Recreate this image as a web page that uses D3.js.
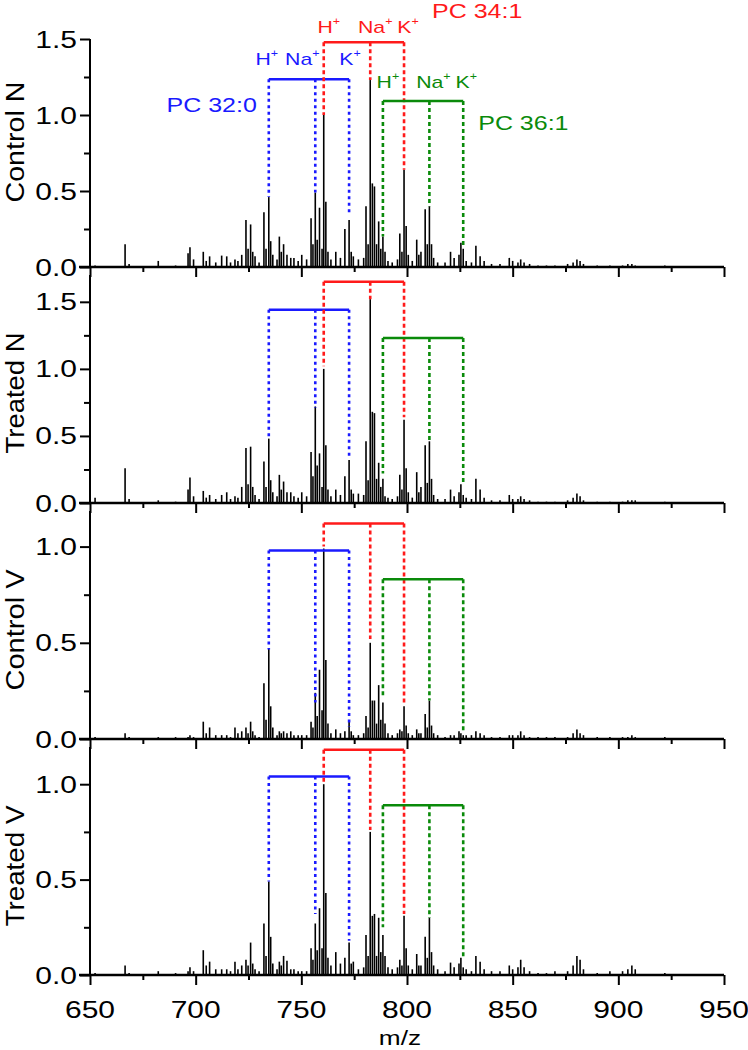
<!DOCTYPE html>
<html><head><meta charset="utf-8">
<script src="https://cdn.jsdelivr.net/npm/d3@7"></script>
<style>html,body{margin:0;padding:0;background:#fff;}svg{display:block;font-family:"Liberation Sans",Arial,sans-serif;}</style>
</head><body>
<svg id="chart" width="748" height="1050"></svg>
<script>
// ---------------- data ----------------
const panelNames = ["Control N", "Treated N", "Control V", "Treated V"];
const xDomain = [650, 950];
const xTickLabels = [650, 700, 750, 800, 850, 900, 950];
const yMaxes = [1.5, 1.7, 1.185, 1.195];
const yTickLabels = [[0, 0.5, 1.0, 1.5], [0, 0.5, 1.0, 1.5], [0, 0.5, 1.0], [0, 0.5, 1.0]];

const peakMz = [652.4,666.6,668.5,682.3,690.5,696.4,697.3,699.0,703.6,705.0,706.6,709.5,712.3,714.7,716.5,718.6,720.0,721.8,723.8,724.8,726.0,727.0,728.1,730.0,732.3,733.3,734.6,735.5,736.5,738.5,739.6,740.5,741.6,743.2,745.0,746.5,748.5,750.2,752.5,754.6,755.5,756.6,757.5,758.6,759.8,760.6,761.6,762.6,764.0,766.3,768.5,770.6,772.6,773.6,774.6,777.0,779.5,780.6,781.6,782.6,783.6,784.6,785.6,786.6,787.6,788.6,789.6,791.0,793.0,795.5,796.6,797.6,798.6,799.6,800.6,802.5,804.6,805.6,806.6,808.6,809.6,810.6,811.6,812.6,814.5,818.0,820.6,822.3,824.6,825.5,826.6,828.0,830.5,832.6,834.6,836.5,840.0,844.0,848.4,850.0,852.5,853.8,855.4,858.0,862.0,866.0,870.0,876.0,878.6,880.4,881.9,883.5,890.0,896.0,902.0,904.5,906.4,908.0,915.0,922.0,935.0];
const controlN = [0.01,0.15,0.02,0.04,0.01,0.09,0.13,0.05,0.10,0.04,0.07,0.03,0.075,0.07,0.03,0.05,0.04,0.08,0.31,0.12,0.28,0.10,0.07,0.03,0.36,0.12,0.46,0.17,0.08,0.05,0.20,0.10,0.15,0.08,0.06,0.06,0.04,0.08,0.05,0.32,0.15,0.49,0.18,0.39,0.12,1.00,0.43,0.10,0.05,0.10,0.06,0.25,0.31,0.10,0.07,0.05,0.06,0.40,0.15,1.23,0.55,0.53,0.15,0.30,0.12,0.20,0.10,0.04,0.03,0.05,0.22,0.10,0.64,0.27,0.08,0.04,0.18,0.08,0.10,0.38,0.15,0.40,0.15,0.06,0.03,0.03,0.10,0.06,0.08,0.16,0.12,0.04,0.03,0.14,0.07,0.04,0.02,0.02,0.06,0.04,0.03,0.05,0.03,0.02,0.01,0.01,0.01,0.02,0.03,0.05,0.04,0.02,0.01,0.01,0.01,0.02,0.02,0.01,0.005,0.01,0.005];
const treatedN = [0.04,0.26,0.03,0.02,0.01,0.10,0.19,0.05,0.09,0.04,0.06,0.03,0.06,0.08,0.03,0.05,0.04,0.12,0.41,0.14,0.42,0.12,0.06,0.03,0.31,0.12,0.48,0.17,0.08,0.05,0.21,0.10,0.16,0.08,0.08,0.05,0.04,0.08,0.05,0.38,0.20,0.72,0.28,0.37,0.12,1.00,0.43,0.10,0.05,0.10,0.06,0.20,0.32,0.10,0.07,0.07,0.06,0.46,0.17,1.52,0.68,0.67,0.18,0.30,0.12,0.18,0.05,0.04,0.03,0.05,0.21,0.10,0.62,0.26,0.08,0.04,0.23,0.08,0.12,0.43,0.15,0.46,0.18,0.06,0.03,0.03,0.10,0.05,0.08,0.14,0.06,0.04,0.03,0.18,0.10,0.04,0.02,0.02,0.06,0.03,0.03,0.05,0.03,0.02,0.01,0.01,0.01,0.02,0.04,0.07,0.05,0.02,0.01,0.01,0.01,0.02,0.02,0.02,0.005,0.01,0.005];
const controlV = [0.01,0.03,0.01,0.01,0.01,0.01,0.02,0.01,0.09,0.03,0.06,0.02,0.02,0.02,0.01,0.06,0.03,0.04,0.06,0.03,0.09,0.04,0.02,0.01,0.29,0.10,0.47,0.17,0.06,0.02,0.04,0.03,0.04,0.03,0.04,0.02,0.02,0.02,0.02,0.09,0.06,0.24,0.12,0.36,0.15,0.99,0.41,0.08,0.03,0.05,0.03,0.04,0.09,0.04,0.02,0.02,0.03,0.12,0.06,0.50,0.20,0.20,0.08,0.28,0.10,0.19,0.08,0.03,0.02,0.03,0.05,0.04,0.17,0.07,0.03,0.02,0.05,0.03,0.03,0.13,0.06,0.20,0.07,0.03,0.02,0.01,0.02,0.02,0.04,0.03,0.02,0.02,0.02,0.04,0.03,0.02,0.01,0.01,0.02,0.02,0.02,0.04,0.02,0.01,0.01,0.01,0.01,0.01,0.03,0.05,0.03,0.02,0.01,0.01,0.01,0.01,0.02,0.01,0.005,0.01,0.005];
const treatedV = [0.01,0.05,0.01,0.02,0.01,0.02,0.04,0.02,0.13,0.05,0.07,0.03,0.03,0.03,0.02,0.07,0.03,0.05,0.08,0.05,0.17,0.06,0.03,0.02,0.27,0.10,0.49,0.20,0.06,0.03,0.07,0.05,0.10,0.075,0.03,0.03,0.02,0.02,0.02,0.14,0.08,0.27,0.13,0.35,0.14,1.00,0.43,0.09,0.05,0.12,0.06,0.09,0.17,0.06,0.07,0.03,0.04,0.21,0.10,0.75,0.31,0.32,0.10,0.30,0.12,0.21,0.10,0.04,0.03,0.04,0.08,0.05,0.31,0.14,0.05,0.03,0.11,0.05,0.05,0.20,0.09,0.30,0.12,0.05,0.03,0.02,0.065,0.04,0.06,0.09,0.04,0.03,0.02,0.10,0.07,0.03,0.02,0.02,0.05,0.03,0.04,0.08,0.04,0.02,0.01,0.01,0.02,0.02,0.05,0.10,0.08,0.03,0.01,0.02,0.02,0.03,0.05,0.03,0.005,0.01,0.005];
const spectra = [controlN, treatedN, controlV, treatedV];

// annotation: lipid species, their ion m/z (H+, Na+, K+)
const ionNames = ["H", "Na", "K"];
const lipidNames = ["PC 32:0", "PC 34:1", "PC 36:1"];
const pc320Mz = [734.6, 756.6, 772.6];
const pc341Mz = [760.6, 782.6, 798.6];
const pc361Mz = [788.6, 810.6, 826.6];
// bracket heights per panel (intensity units)
const pc320Level = [1.235, 1.44, 0.98, 1.04];
const pc341Level = [1.478, 1.65, 1.12, 1.18];
const pc361Level = [1.092, 1.23, 0.83, 0.89];
// lower end of each dashed drop line per panel
const pc320Ends = [[0.46, 0.49, 0.36], [0.49, 0.71, 0.34], [0.465, 0.19, 0.065], [0.49, 0.32, 0.18]];
const pc341Ends = [[1.0, 1.23, 0.64], [1.02, 1.52, 0.64], [1.0, 0.52, 0.19], [1.0, 0.76, 0.32]];
const pc361Ends = [[0.2, 0.4, 0.145], [0.22, 0.46, 0.145], [0.22, 0.2, 0.03], [0.25, 0.3, 0.09]];

// ---------------- layout ----------------
const svg = d3.select("#chart");
const left = 90, right = 724;
const panelTop0 = 39, panelH = 228, panelStep = 236;
const x = d3.scaleLinear().domain(xDomain).range([left, right]);
const SX = 1.25; // horizontal stretch of text seen in the reference
const blue = "#1a1aff", red = "#ff1a1a", green = "#0a8a0a";
const lipids = [
  {name: lipidNames[0], mz: pc320Mz, level: pc320Level, ends: pc320Ends, color: blue, dash: "3,3.5"},
  {name: lipidNames[1], mz: pc341Mz, level: pc341Level, ends: pc341Ends, color: red, dash: "4,3"},
  {name: lipidNames[2], mz: pc361Mz, level: pc361Level, ends: pc361Ends, color: green, dash: "4,3"}
];

function stretchedText(g, tx, ty, str, size, anchor, color) {
  return g.append("text")
    .attr("transform", `translate(${tx},${ty}) scale(${SX},1)`)
    .attr("text-anchor", anchor)
    .attr("font-size", size)
    .attr("fill", color || "#000")
    .text(str);
}

spectra.forEach((vals, i) => {
  const top = panelTop0 + i * panelStep;
  const base = top + panelH;
  const y = d3.scaleLinear().domain([0, yMaxes[i]]).range([base, top]);
  const g = svg.append("g");

  // peaks (stick spectrum)
  g.append("g").selectAll("line").data(peakMz.map((m, k) => [m, vals[k]])).join("line")
    .attr("x1", d => x(d[0])).attr("x2", d => x(d[0]))
    .attr("y1", y(0)).attr("y2", d => y(d[1]))
    .attr("stroke", "#000").attr("stroke-width", 1.6);

  // annotations
  lipids.forEach(L => {
    const lv = y(L.level[i]);
    g.append("line")
      .attr("x1", x(L.mz[0])).attr("x2", x(L.mz[2]))
      .attr("y1", lv).attr("y2", lv)
      .attr("stroke", L.color).attr("stroke-width", 2.5);
    L.mz.forEach((m, k) => {
      g.append("line")
        .attr("x1", x(m)).attr("x2", x(m))
        .attr("y1", lv).attr("y2", y(L.ends[i][k]))
        .attr("stroke", L.color).attr("stroke-width", 2.6)
        .attr("stroke-dasharray", L.dash);
    });
  });

  // y axis
  const yMinor = d3.range(0, yMaxes[i] + 1e-9, 0.25);
  const yax = d3.axisLeft(y).tickValues(yMinor).tickSize(6).tickFormat("");
  const ga = g.append("g").attr("transform", `translate(${left},0)`).call(yax);
  ga.selectAll(".tick line").attr("stroke-width", 2)
    .filter(d => yTickLabels[i].some(t => Math.abs(t - d) < 1e-9)).attr("x2", -10);
  ga.select(".domain").attr("stroke-width", 2).attr("d", `M0,${top}V${base}`);
  yTickLabels[i].forEach(t => {
    stretchedText(g, 77, y(t) + 8.5, d3.format(".1f")(t), 24, "end");
  });

  // x axis
  const xax = d3.axisBottom(x).tickValues(d3.range(650, 951, 25)).tickSize(5).tickFormat("");
  const gx = g.append("g").attr("transform", `translate(0,${base})`).call(xax);
  gx.selectAll(".tick line").attr("stroke-width", 2)
    .filter(d => xTickLabels.includes(d)).attr("y2", 10);
  gx.select(".domain").attr("stroke-width", 2.5).attr("d", `M${left - 11},0H${right}`);

  // panel title
  const titleOffset = [-11, 4, 5, 5][i];
  g.append("text")
    .attr("transform", `translate(24,${top + panelH / 2 + titleOffset}) rotate(-90)`)
    .attr("text-anchor", "middle").attr("font-size", 25)
    .attr("textLength", 121).attr("lengthAdjust", "spacingAndGlyphs")
    .text(panelNames[i]);
});

// bottom x tick labels
const lastBase = panelTop0 + 3 * panelStep + panelH;
xTickLabels.forEach(t => stretchedText(svg, x(t), lastBase + 43, t, 24, "middle"));
stretchedText(svg, 400, 1045, "m/z", 21, "middle");

// ion and lipid labels (top panel)
const ionLabelRows = [
  {lipid: 0, base: 65, dx: [-2, -13, 1], namePos: {dx: -12, y: 112, anchor: "end", mzIdx: 0}},
  {lipid: 1, base: 33, dx: [5, 5, 4], namePos: {dx: 28, y: 18, anchor: "start", mzIdx: 2}},
  {lipid: 2, base: 88, dx: [5, 4, 3], namePos: {dx: 15, y: 130, anchor: "start", mzIdx: 2}}
];
ionLabelRows.forEach(r => {
  const L = lipids[r.lipid];
  L.mz.forEach((m, k) => {
    const t = svg.append("text")
      .attr("transform", `translate(${x(m) + r.dx[k]},${r.base}) scale(${SX},1)`)
      .attr("text-anchor", "middle").attr("font-size", 17).attr("fill", L.color);
    t.append("tspan").text(ionNames[k]);
    t.append("tspan").attr("font-size", 10).attr("dy", -8).text("+");
  });
  stretchedText(svg, x(L.mz[r.namePos.mzIdx]) + r.namePos.dx, r.namePos.y, L.name, 20, r.namePos.anchor, L.color);
});
</script>
</body></html>
